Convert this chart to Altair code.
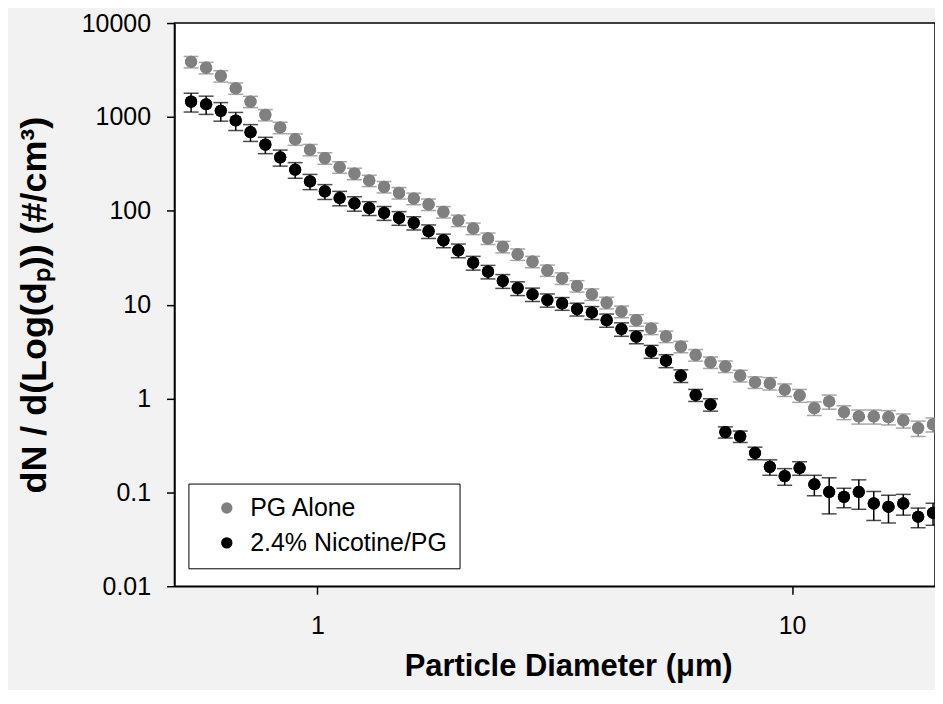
import altair as alt
import pandas as pd

# Particle diameter (µm) – APS channel midpoints
diameter = [0.542, 0.583, 0.626, 0.673, 0.723, 0.777, 0.835, 0.898, 0.965, 1.037,
            1.114, 1.197, 1.286, 1.382, 1.486, 1.596, 1.715, 1.843, 1.981, 2.129,
            2.288, 2.458, 2.642, 2.839, 3.051, 3.278, 3.523, 3.786, 4.068, 4.371,
            4.698, 5.048, 5.425, 5.829, 6.264, 6.732, 7.234, 7.774, 8.354, 8.977,
            9.647, 10.37, 11.14, 11.97, 12.86, 13.82, 14.86, 15.96, 17.15, 18.43, 19.81]

pg_alone = [3870, 3345, 2730, 2020, 1456, 1052, 771, 579, 447, 364,
            292, 249, 210, 180, 155, 135, 117, 97.3, 78.8, 64.8,
            50.8, 41.4, 34.4, 28.7, 23.2, 19.1, 15.8, 12.9, 10.5, 8.45,
            6.84, 5.57, 4.58, 3.57, 2.91, 2.43, 2.2, 1.75, 1.49, 1.45,
            1.24, 1.08, 0.789, 0.929, 0.716, 0.644, 0.644, 0.633, 0.584, 0.484, 0.53]
pg_alone_sd = [540, 470, 380, 280, 200, 145, 108, 81, 62, 51,
               41, 35, 29, 25, 21.7, 19, 16.4, 13.6, 11, 9.1,
               7.1, 5.8, 4.8, 4.0, 3.2, 2.7, 2.2, 1.8, 1.5, 1.2,
               0.96, 0.78, 0.64, 0.5, 0.41, 0.34, 0.31, 0.25, 0.21, 0.22,
               0.19, 0.17, 0.13, 0.16, 0.12, 0.11, 0.11, 0.11, 0.1, 0.09, 0.09]

nicotine_pg = [1457, 1364, 1161, 916, 688, 506, 371, 274, 206, 161,
               137, 120, 107, 95, 84, 74.4, 60.7, 48.4, 37.9, 28,
               22.5, 17.9, 15, 12.9, 11.2, 10.3, 8.96, 8.24, 6.84, 5.5,
               4.55, 3.18, 2.53, 1.75, 1.09, 0.863, 0.439, 0.395, 0.263, 0.187,
               0.149, 0.182, 0.122, 0.101, 0.0896, 0.101, 0.0762, 0.0702, 0.0762, 0.055, 0.0606]
nicotine_pg_sd = [330, 300, 260, 200, 140, 100, 72, 52, 38, 29,
                  24, 21, 18, 16, 14, 12, 10, 8, 6.3, 4.7,
                  3.7, 3.0, 2.5, 2.1, 1.8, 1.6, 1.4, 1.3, 1.1, 0.9,
                  0.72, 0.5, 0.4, 0.27, 0.16, 0.13, 0.06, 0.055, 0.04, 0.035,
                  0.03, 0.03, 0.03, 0.042, 0.021, 0.035, 0.026, 0.023, 0.019, 0.013, 0.016]

series_names = ["PG Alone", "2.4% Nicotine/PG"]
series_colors = ["#808080", "#000000"]
y_ticks = [0.01, 0.1, 1, 10, 100, 1000, 10000]
x_ticks = [1, 10]

rows = []
for name, vals, sds in ((series_names[0], pg_alone, pg_alone_sd),
                        (series_names[1], nicotine_pg, nicotine_pg_sd)):
    for d, v, s in zip(diameter, vals, sds):
        rows.append({"series": name, "d": d, "v": v, "lo": v - s, "hi": v + s})
df = pd.DataFrame(rows)

FONT = "Liberation Sans"
xs = alt.Scale(type="log", domain=[0.5, 20], nice=False)
ys = alt.Scale(type="log", domain=[0.01, 10000], nice=False)
cscale = alt.Scale(domain=series_names, range=series_colors)

legend = alt.Legend(title=None, orient="none", legendX=14, legendY=462,
                    direction="vertical", labelFontSize=25, labelFont=FONT,
                    labelColor="black", symbolSize=130, symbolType="circle",
                    symbolStrokeWidth=0, symbolOpacity=1, strokeColor="black",
                    fillColor="white", padding=12, rowPadding=9,
                    symbolOffset=14, labelOffset=11, labelLimit=400)
color = alt.Color("series:N", scale=cscale, legend=legend)

x_enc = alt.X("d:Q", scale=xs,
              axis=alt.Axis(values=x_ticks, format="~g", title="Particle Diameter (μm)",
                            labelPadding=19, titlePadding=14, titleX=395, titleAlign="center",
                            titleFontSize=31))
y_enc = alt.Y("v:Q", scale=ys,
              axis=alt.Axis(values=y_ticks, format="~g", title="dN / d(Log(dₚ)) (#/cm³)",
                            labelPadding=16, titlePadding=28, titleFontSize=36))

base = alt.Chart(df)

rules = base.mark_rule(strokeWidth=1.5).encode(
    x=alt.X("d:Q", scale=xs),
    y=alt.Y("lo:Q", scale=ys),
    y2="hi:Q",
    color=color,
)
caps_hi = base.mark_tick(orient="horizontal", size=15, thickness=1.5).encode(
    x=alt.X("d:Q", scale=xs),
    y=alt.Y("hi:Q", scale=ys),
    color=color,
)
caps_lo = base.mark_tick(orient="horizontal", size=15, thickness=1.5).encode(
    x=alt.X("d:Q", scale=xs),
    y=alt.Y("lo:Q", scale=ys),
    color=color,
)
points = base.mark_circle(size=150, opacity=1).encode(
    x=x_enc,
    y=y_enc,
    color=color,
)

chart = alt.layer(points, rules, caps_hi, caps_lo, points).properties(
    width=763, height=565,
    autosize=alt.AutoSizeParams(type="none"),
    padding={"left": 167, "top": 14, "right": 0, "bottom": 103},
    background="#f2f2f2",
).configure_view(
    stroke="black", strokeWidth=1.5, fill="white"
).configure_axis(
    grid=False, domainColor="black", domainWidth=1.5, tickColor="black", tickWidth=1.5,
    tickSize=8, labelFont=FONT, labelFontSize=25, labelColor="black",
    titleFont=FONT, titleFontSize=32, titleFontWeight="bold", titleColor="black",
)

chart.save("out.html", embed_options={"renderer": "svg", "actions": False})
